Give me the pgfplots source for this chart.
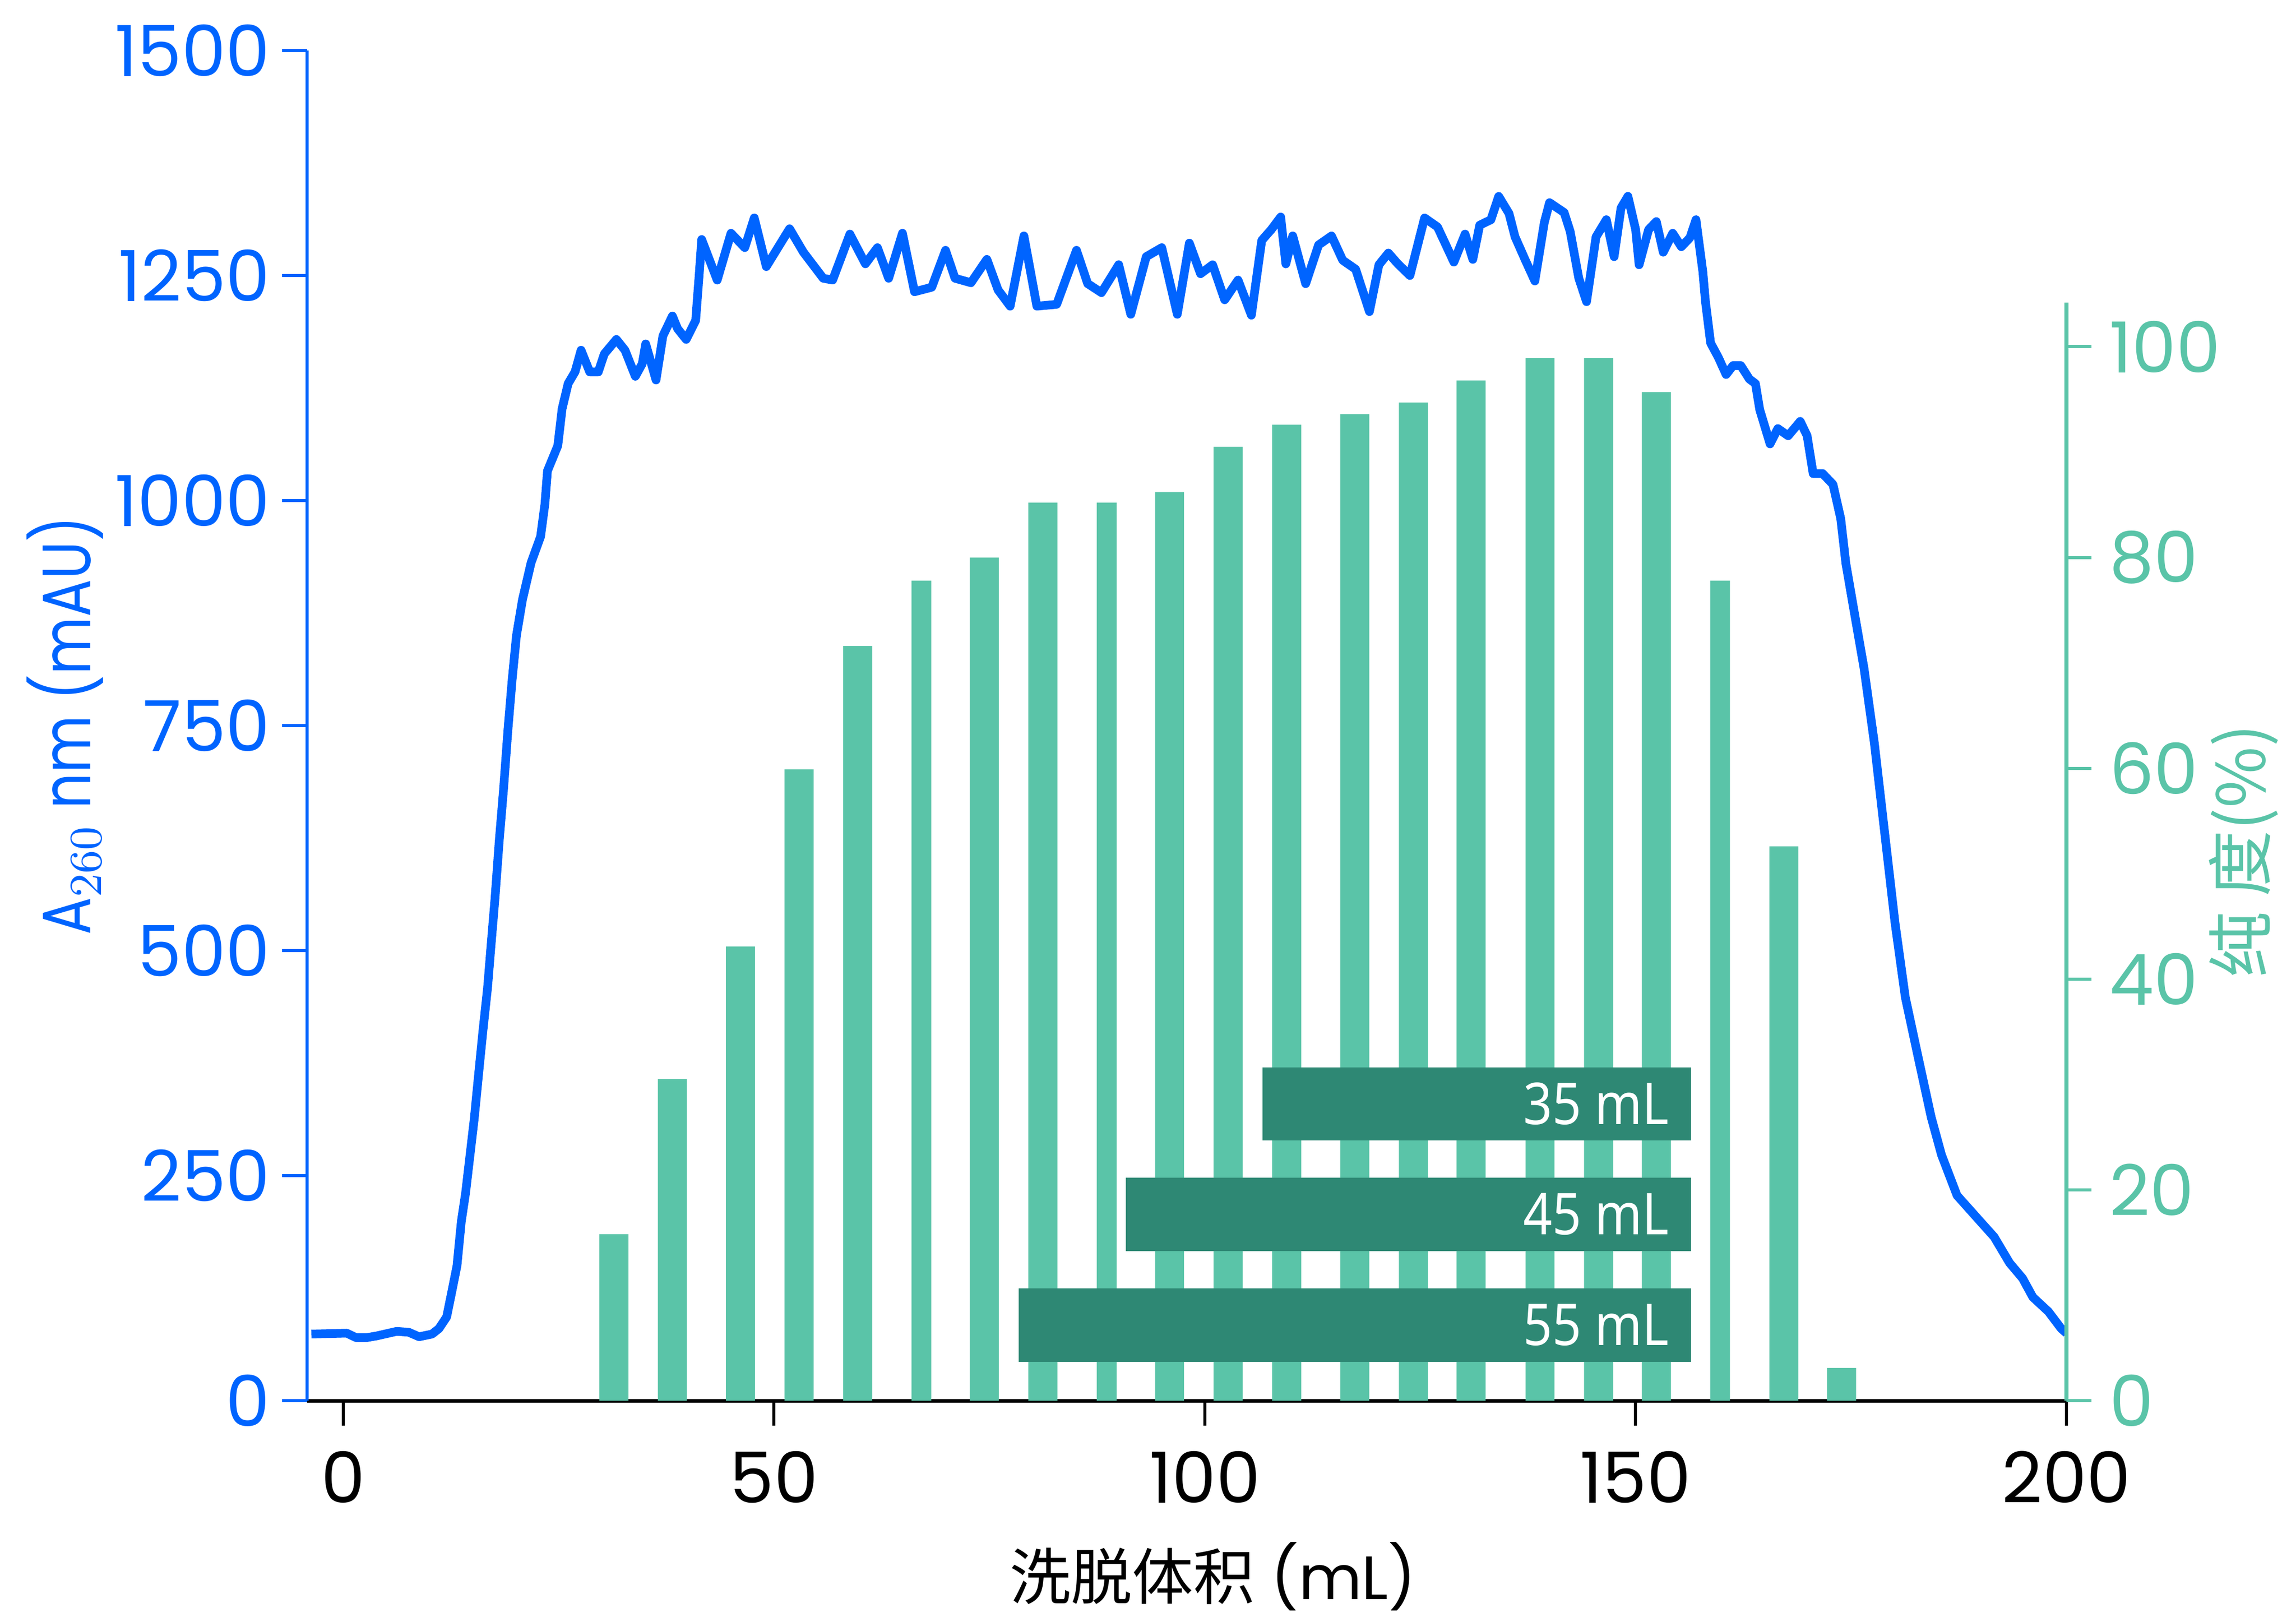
\documentclass[border=0pt]{standalone}
\usepackage{fontspec}
\setmainfont{Poppins}
\newfontfamily\ylabfont[FakeStretch=0.82]{Poppins}
\newfontfamily\cjk{Noto Sans CJK SC}
\newfontfamily\barfont[FakeStretch=0.88]{Noto Sans}
\usepackage{pgfplots}
\pgfplotsset{compat=1.18}
\definecolor{cblue}{HTML}{0064FF}
\definecolor{cteal}{HTML}{5AC4A8}
\definecolor{cdark}{HTML}{2E8874}
\begin{document}
\begin{tikzpicture}
\path[use as bounding box] (-60.2pt,-42.3pt) rectangle (389.9pt,274.5pt);
\pgfplotsset{
 common/.style={
  scale only axis, width=344.9pt, height=264.6pt,
  at={(0pt,0pt)}, anchor=south west,
  xmin=-4.2, xmax=200,
  /pgf/number format/assume math mode=true,
  /pgf/number format/1000 sep={},
  tick align=outside, major tick length=4.9pt,
  ticklabel style={font=\fontsize{13.8}{16}\selectfont},
 }
}
\begin{axis}[common,
  axis x line*=bottom, axis y line*=left,
  ymin=0, ymax=1500, ytick={0,250,...,1500},
  xtick={0,50,...,200},
  x axis line style={black, line width=0.7pt, -},
  y axis line style={cblue, line width=0.6pt, -},
  xtick style={black, line width=0.6pt},
  ytick style={cblue, line width=0.6pt},
  yticklabel style={text=cblue, xshift=1.2pt},
  xticklabel style={text=black, yshift=-1.5pt},
]
\addplot[cblue, line width=1.7pt, line join=round] coordinates {
(-3.7,74) (0.4,75) (1.5,70) (2.7,70) (3.9,72) (6.2,77) (7.6,76) (8.8,71) (10.3,74) (11.1,80)
(12.0,93) (12.7,126) (13.2,150) (13.7,199) (14.2,231) (14.7,272) (15.2,313) (15.7,362) (16.2,410) (16.75,459)
(17.1,500) (17.6,557) (18.1,622) (18.6,679) (19.1,744) (19.6,801) (20.1,850) (20.8,890) (21.8,931) (22.9,960)
(23.4,996) (23.7,1033) (24.9,1061) (25.4,1102) (26.1,1130) (26.9,1143) (27.6,1167) (28.6,1143) (29.6,1143) (30.3,1163)
(31.7,1179) (32.7,1167) (33.9,1138) (34.7,1152) (35.1,1174) (36.3,1134) (37.1,1183) (38.2,1205) (38.8,1191) (39.8,1179)
(40.9,1200) (41.3,1250) (41.6,1290) (43.4,1245) (45.0,1297) (46.6,1281) (47.7,1314) (49.1,1260) (51.8,1302) (53.4,1276)
(55.7,1247) (56.8,1245) (58.8,1296) (60.6,1263) (62.0,1281) (63.3,1247) (64.9,1297) (66.3,1232) (68.3,1237) (69.9,1278)
(71.0,1247) (72.85,1242) (74.7,1268) (76.0,1234) (77.4,1216) (79.0,1294) (80.5,1216) (82.8,1218) (85.1,1278) (86.4,1241)
(88.0,1231) (90.0,1262) (91.4,1207) (93.2,1271) (95.0,1281) (96.8,1207) (98.2,1286) (99.5,1252) (100.9,1262) (102.3,1223)
(103.85,1245) (105.4,1206) (106.6,1289) (107.7,1301) (108.8,1315) (109.4,1263) (110.2,1294) (111.7,1241) (113.2,1284) (114.7,1294)
(116.0,1267) (117.5,1257) (119.1,1210) (120.2,1262) (121.3,1275) (122.4,1263) (123.8,1250) (125.5,1314) (127.0,1304) (128.9,1265)
(130.2,1296) (131.1,1268) (131.9,1306) (133.2,1312) (134.1,1338) (135.3,1319) (136.0,1293) (137.2,1267) (138.3,1244) (139.4,1309)
(140.0,1331) (141.7,1320) (142.4,1299) (143.4,1247) (144.3,1221) (145.4,1293) (146.6,1312) (147.5,1271) (148.3,1325) (149.1,1338)
(150.0,1301) (150.4,1262) (151.5,1301) (152.4,1310) (153.2,1276) (154.3,1297) (155.3,1282) (156.3,1292) (157.0,1312) (157.8,1254)
(158.1,1221) (158.7,1175) (159.6,1159) (160.5,1140) (161.3,1150) (162.2,1150) (163.2,1135) (163.9,1130) (164.4,1101) (165.6,1063)
(166.5,1080) (167.7,1072) (169.1,1088) (169.9,1072) (170.6,1030) (171.7,1030) (172.9,1018) (173.8,980) (174.4,930) (175.3,880)
(176.5,814) (177.7,731) (178.9,631) (180.1,531) (181.3,448) (182.8,381) (184.3,315) (185.5,273) (187.3,228) (190.1,198)
(191.6,182) (193.4,153) (194.9,136) (196.1,115) (197.9,99) (199.4,80) (200,75)
};
\end{axis}
\begin{axis}[common,
  axis x line=none, axis y line*=right,
  ymin=0, ymax=128.1, ytick={0,20,...,100},
  y axis line style={draw=none},
  ytick style={cteal, line width=0.6pt},
  yticklabel style={text=cteal},
  clip=false,
]
\addplot[ybar, bar width=3.37, bar shift=0pt, fill=cteal, draw=none] coordinates {
(31.4,15.8) (38.2,30.5) (46.1,43.1) (52.9,59.9) (59.7,71.6) (74.4,80.0) (81.2,85.2) (95.9,86.2)
(102.7,90.5) (109.5,92.6) (117.4,93.6) (124.2,94.7) (130.9,96.8) (138.9,98.9) (145.7,98.9) (152.4,95.7)
(167.2,52.6) (173.9,3.1)
};
\addplot[ybar, bar width=2.3, bar shift=0pt, fill=cteal, draw=none] coordinates {
(67.1,77.8) (88.6,85.2) (159.8,77.8)
};
\addplot[fill=cdark, draw=none] coordinates {(106.7,24.7) (156.4,24.7) (156.4,31.6) (106.7,31.6)} -- cycle;
\addplot[fill=cdark, draw=none] coordinates {(90.8,14.2) (156.4,14.2) (156.4,21.15) (90.8,21.15)} -- cycle;
\addplot[fill=cdark, draw=none] coordinates {(78.4,3.7) (156.4,3.7) (156.4,10.65) (78.4,10.65)} -- cycle;
\node[anchor=east, text=white, inner sep=0pt, font=\barfont\fontsize{11.3}{13}\selectfont] at (axis cs:153.95,28.15) {35 mL};
\node[anchor=east, text=white, inner sep=0pt, font=\barfont\fontsize{11.3}{13}\selectfont] at (axis cs:153.95,17.7) {45 mL};
\node[anchor=east, text=white, inner sep=0pt, font=\barfont\fontsize{11.3}{13}\selectfont] at (axis cs:153.95,7.2) {55 mL};
\draw[cteal, line width=0.8pt] (axis cs:200,0) -- (axis cs:200,104.2);
\end{axis}
\node[rotate=90, text=cblue, font=\ylabfont\fontsize{13.4}{16}\selectfont] at (-47.5pt,132.3pt) {A$_{260}$ nm (mAU)};
\node[rotate=90, text=cteal, font=\cjk\fontsize{13}{15}\selectfont] at (379.6pt,107.7pt) {纯\ 度(\%)};
\node[text=black, font=\fontsize{12}{14}\selectfont] at (177.6pt,-34.5pt) {{\cjk 洗脱体积} (mL)};
\end{tikzpicture}
\end{document}
